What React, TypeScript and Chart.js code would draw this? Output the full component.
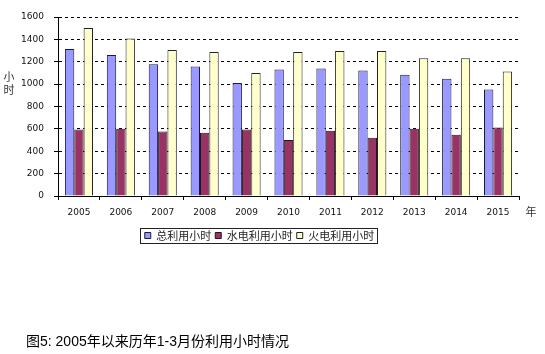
import { useEffect, useRef } from 'react';
import { Chart, registerables } from 'chart.js';

Chart.register(...registerables);

const categories = ['2005', '2006', '2007', '2008', '2009', '2010', '2011', '2012', '2013', '2014', '2015'];
const totalHours = [1314, 1261, 1178, 1157, 1010, 1130, 1139, 1121, 1083, 1047, 952];
const hydroHours = [595, 601, 577, 565, 595, 500, 583, 520, 601, 547, 613];
const thermalHours = [1502, 1407, 1306, 1288, 1100, 1288, 1297, 1297, 1231, 1231, 1112];
const seriesNames = ['总利用小时', '水电利用小时', '火电利用小时'];
const yAxisTitle = ['小', '时'];
const xAxisUnit = '年';
const caption = '图5: 2005年以来历年1-3月份利用小时情况';

const CJK = '"Noto Sans CJK SC", "Noto Sans", sans-serif';

export default function App() {
  const ref = useRef<HTMLCanvasElement | null>(null);

  useEffect(() => {
    if (!ref.current) return;
    const extras = {
      id: 'extras',
      afterDraw(chart: any) {
        const ctx = chart.ctx;
        ctx.save();
        ctx.font = `11px ${CJK}`;
        ctx.fillStyle = '#333';
        ctx.textAlign = 'center';
        ctx.textBaseline = 'middle';
        ctx.fillText(yAxisTitle[0], 9, 77);
        ctx.fillText(yAxisTitle[1], 9, 90);
        ctx.fillText(xAxisUnit, 531, 212);
        const lg = chart.legend;
        if (lg && lg.legendHitBoxes && lg.legendHitBoxes.length) {
          const hb = lg.legendHitBoxes;
          const x0 = Math.min(...hb.map((b: any) => b.left)) - 5;
          const x1 = Math.max(...hb.map((b: any) => b.left + b.width)) + 3;
          const y0 = Math.min(...hb.map((b: any) => b.top)) - 2;
          const y1 = Math.max(...hb.map((b: any) => b.top + b.height)) + 2;
          ctx.strokeStyle = '#222';
          ctx.lineWidth = 1;
          ctx.strokeRect(Math.round(x0) + 0.5, Math.round(y0) + 0.5, Math.round(x1 - x0), Math.round(y1 - y0));
        }
        ctx.restore();
      },
    };
    const chart = new Chart(ref.current, {
      type: 'bar',
      data: {
        labels: categories,
        datasets: [
          { label: seriesNames[0], data: totalHours, backgroundColor: '#9999FF', borderColor: '#1a1a40', borderWidth: 1 },
          { label: seriesNames[1], data: hydroHours, backgroundColor: '#993366', borderColor: '#2a1020', borderWidth: 1 },
          { label: seriesNames[2], data: thermalHours, backgroundColor: '#FFFFCC', borderColor: '#222', borderWidth: 1 },
        ],
      },
      options: {
        responsive: false,
        animation: false,
        layout: { padding: { left: 0, right: 26, top: 17, bottom: 103 } },
        datasets: { bar: { categoryPercentage: 0.67, barPercentage: 1.0 } },
        plugins: {
          legend: {
            position: 'bottom',
            labels: {
              boxWidth: 6,
              boxHeight: 6,
              padding: 4,
              color: '#222',
              font: { size: 11, family: CJK },
            },
          },
          tooltip: { enabled: false },
        },
        scales: {
          x: {
            afterFit(scale: any) { scale.height = 30; },
            grid: { display: true, drawOnChartArea: false, drawTicks: true, tickLength: 4, color: '#000', offset: true },
            border: { display: true, color: '#000', width: 1 },
            ticks: { color: '#111', padding: 7, font: { size: 9, family: '"DejaVu Sans"' }, maxRotation: 0 },
          },
          y: {
            min: 0,
            max: 1600,
            afterFit(scale: any) { scale.width = 58; },
            ticks: {
              stepSize: 200,
              color: '#111',
              padding: 10,
              font: { size: 9, family: '"DejaVu Sans"' },
              callback: (v: any) => String(v),
            },
            grid: { color: '#000', lineWidth: 1, tickLength: 4, tickColor: '#000' },
            border: { display: true, color: '#000', width: 1, dash: [3, 3] },
          },
        },
      },
      plugins: [extras],
    });
    return () => chart.destroy();
  }, []);

  return (
    <div style={{ position: 'absolute', left: 0, top: 0, width: 545, height: 354, background: '#fff' }}>
      <canvas ref={ref} width={545} height={354} style={{ display: 'block' }} />
      <div style={{ position: 'absolute', left: 26, top: 332, fontSize: 14, lineHeight: '18px', color: '#000', fontFamily: `"Liberation Sans", Arial, ${CJK}`, whiteSpace: 'nowrap' }}>{caption}</div>
    </div>
  );
}
